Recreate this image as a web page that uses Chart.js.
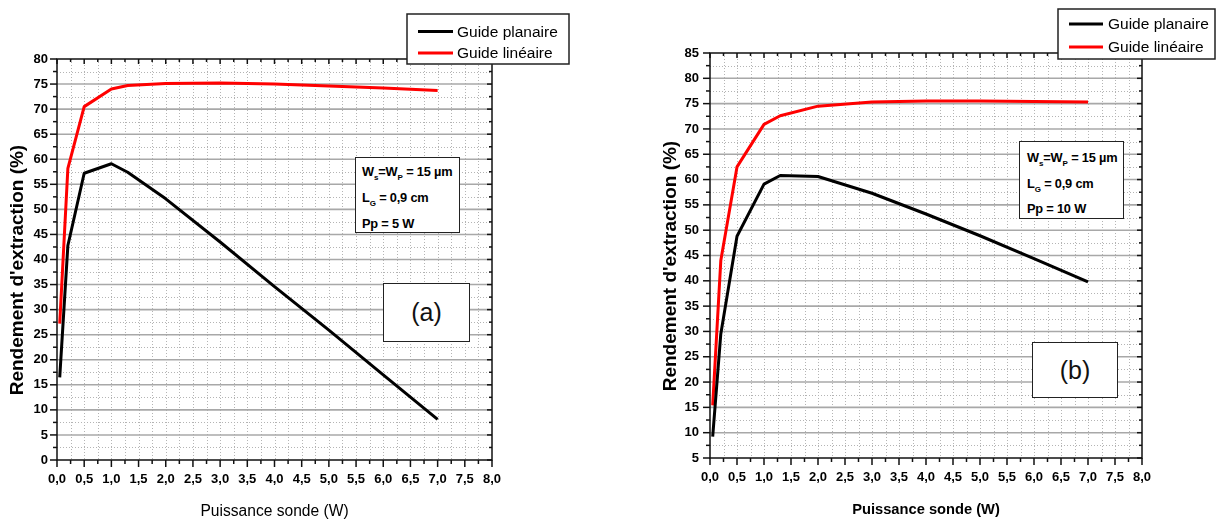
<!DOCTYPE html>
<html>
<head>
<meta charset="utf-8">
<script src="https://cdn.jsdelivr.net/npm/chart.js@4.4.0/dist/chart.umd.min.js"></script>
<style>
  body { margin: 0; background: #fff; width: 1222px; height: 521px; overflow: hidden; position: relative;
         font-family: "Liberation Sans", Arial, sans-serif; }
  .graph { position: absolute; top: 0; width: 611px; height: 521px; }
  .note { position: absolute; box-sizing: border-box; background: #fff; border: 1.5px solid #222;
          font-weight: bold; font-size: 12.8px; color: #000; white-space: nowrap; letter-spacing: -0.2px; }
  .note sub { font-size: 8px; line-height: 0; vertical-align: -4px; letter-spacing: 0; }
  .tag { position: absolute; box-sizing: border-box; background: #fff; border: 1.5px solid #222;
         font-size: 25px; display: flex; align-items: center; justify-content: center; color: #111; }
</style>
</head>
<body>
<div class="graph" style="left:0"><canvas id="chartA"></canvas></div>
<div class="graph" style="left:611px"><canvas id="chartB"></canvas></div>

<div class="note" style="left:355px; top:157px; width:105px; height:76px; padding:1px 0 0 6px; line-height:26px">
W<sub>s</sub>=W<sub>P</sub> = 15 µm<br>L<sub>G</sub> = 0,9 cm<br>Pp = 5 W</div>
<div class="tag" style="left:383px; top:283px; width:87px; height:59px">(a)</div>

<div class="note" style="left:1019px; top:141px; width:105px; height:78px; padding:3px 0 0 7px; line-height:25.5px">
W<sub>s</sub>=W<sub>P</sub> = 15 µm<br>L<sub>G</sub> = 0,9 cm<br>Pp = 10 W</div>
<div class="tag" style="left:1032px; top:342px; width:86px; height:56px">(b)</div>

<script>
// Puissance sonde (W)
const puissanceA = [0.05, 0.2, 0.5, 1.0, 1.3, 2.0, 3.0, 4.0, 5.0, 6.0, 7.0];
const planaireA  = [16.5, 42.8, 57.2, 59.1, 57.4, 52.1, 43.5, 34.6, 25.9, 17.0, 8.1];
const lineaireA  = [27.2, 58.2, 70.5, 74.0, 74.7, 75.1, 75.2, 75.0, 74.6, 74.2, 73.7];

const puissanceB = [0.05, 0.2, 0.5, 1.0, 1.3, 2.0, 3.0, 4.0, 5.0, 6.0, 7.0];
const planaireB  = [9.2, 29.5, 48.8, 59.1, 60.8, 60.6, 57.3, 53.2, 48.9, 44.4, 39.8];
const lineaireB  = [15.4, 44.0, 62.5, 70.9, 72.6, 74.5, 75.3, 75.5, 75.5, 75.4, 75.3];

const seriesLabels = ["Guide planaire", "Guide linéaire"];
const seriesColors = ["#000000", "#ff0000"];

const xTitle = "Puissance sonde (W)";
const yTitle = "Rendement d'extraction (%)";

const FONT = '"Liberation Sans", Arial, sans-serif';
Chart.defaults.font.family = FONT;
Chart.defaults.color = "#000";

function line(ctx, x1, y1, x2, y2) {
  ctx.beginPath();
  ctx.moveTo(x1, y1);
  ctx.lineTo(x2, y2);
  ctx.stroke();
}

// grille pointillée + cadre et graduations façon Origin
const cadre = {
  id: "cadre",
  beforeDatasetsDraw(chart) {
    const { ctx, chartArea: a, scales: { x, y } } = chart;
    ctx.save();
    ctx.lineWidth = 1;
    ctx.strokeStyle = "#b4b4b4";
    ctx.setLineDash([1, 2]);
    for (let v = x.min + 0.25; v < x.max - 0.01; v += 0.25) {
      const px = Math.round(x.getPixelForValue(v)) + 0.5;
      line(ctx, px, a.top, px, a.bottom);
    }
    for (let v = y.min + 2.5; v < y.max - 0.01; v += 5) {
      const py = Math.round(y.getPixelForValue(v)) + 0.5;
      line(ctx, a.left, py, a.right, py);
    }
    ctx.setLineDash([]);
    ctx.strokeStyle = "#a8a8a8";
    ctx.lineWidth = 1.6;
    for (let v = y.min + 5; v < y.max - 0.01; v += 5) {
      const py = y.getPixelForValue(v);
      line(ctx, a.left, py, a.right, py);
    }
    ctx.restore();
  },
  afterDatasetsDraw(chart, args, opts) {
    const { ctx, chartArea: a, scales: { x, y } } = chart;
    ctx.save();
    ctx.strokeStyle = "#111";
    ctx.lineWidth = 1.5;
    ctx.strokeRect(a.left, a.top, a.right - a.left, a.bottom - a.top);

    for (let v = x.min; v <= x.max + 0.01; v += 0.25) {
      const px = x.getPixelForValue(v);
      const major = Math.abs(v * 2 - Math.round(v * 2)) < 0.01;
      line(ctx, px, a.bottom, px, a.bottom + (major ? 7 : 4));
      line(ctx, px, a.top, px, a.top + (major ? 5 : 3));
    }
    for (let v = y.min; v <= y.max + 0.01; v += 2.5) {
      const py = y.getPixelForValue(v);
      const major = Math.abs(v / 5 - Math.round(v / 5)) < 0.01;
      line(ctx, a.left, py, a.left - (major ? 7 : 4), py);
      line(ctx, a.right, py, a.right - (major ? 5 : 3), py);
    }

    // légende
    const L = opts.legend;
    ctx.fillStyle = "#fff";
    ctx.fillRect(L.x, L.y, L.w, L.h);
    ctx.strokeStyle = "#222";
    ctx.lineWidth = 1.5;
    ctx.strokeRect(L.x, L.y, L.w, L.h);
    ctx.font = "15.5px " + FONT;
    ctx.textBaseline = "middle";
    ctx.textAlign = "left";
    chart.data.datasets.forEach((ds, i) => {
      const ly = L.rows[i];
      ctx.strokeStyle = ds.borderColor;
      ctx.lineWidth = 3;
      line(ctx, L.x1, ly, L.x2, ly);
      ctx.fillStyle = "#000";
      ctx.fillText(ds.label, L.tx, ly + 1);
    });
    ctx.restore();
  }
};

function makeChart(id, xs, ysPlan, ysLin, cfg) {
  const ds = [ysPlan, ysLin].map((vals, i) => ({
    label: seriesLabels[i],
    data: xs.map((v, k) => ({ x: v, y: vals[k] })),
    borderColor: seriesColors[i],
    backgroundColor: seriesColors[i],
    borderWidth: 3,
    pointRadius: 0,
    tension: 0,
    borderJoinStyle: "round"
  }));
  return new Chart(document.getElementById(id), {
    type: "line",
    data: { datasets: ds },
    plugins: [cadre],
    options: {
      responsive: true,
      maintainAspectRatio: false,
      animation: false,
      events: [],
      layout: { padding: { top: cfg.top, right: cfg.right, left: 0, bottom: 0 } },
      plugins: {
        legend: { display: false },
        tooltip: { enabled: false },
        cadre: { legend: cfg.legend }
      },
      scales: {
        x: {
          type: "linear",
          min: 0,
          max: 8,
          grid: { display: false, drawTicks: false },
          border: { display: false },
          ticks: {
            stepSize: 0.5,
            padding: 12,
            autoSkip: false,
            maxRotation: 0,
            font: { size: 13, weight: "bold" },
            callback: v => v.toFixed(1).replace(".", ",")
          },
          title: {
            display: true,
            text: xTitle,
            font: cfg.xTitleFont,
            padding: { top: 0, bottom: cfg.xTitlePad }
          },
          afterFit: s => { s.height = cfg.xHeight; }
        },
        y: {
          min: cfg.yMin,
          max: cfg.yMax,
          grid: { display: false, drawTicks: false },
          border: { display: false },
          ticks: {
            stepSize: 5,
            padding: cfg.yTickPad,
            font: { size: 13, weight: "bold" }
          },
          title: {
            display: true,
            text: yTitle + "    ",
            font: { size: 19, weight: "bold" },
            padding: { top: cfg.yTitlePad, bottom: 0 }
          },
          afterFit: s => { s.width = cfg.yWidth; }
        }
      }
    }
  });
}

makeChart("chartA", puissanceA, planaireA, lineaireA, {
  top: 59, right: 119, xHeight: 61, yWidth: 57,
  yMin: 0, yMax: 80, yTickPad: 9, yTitlePad: 6.6,
  xTitleFont: { size: 15.6, weight: "normal" }, xTitlePad: 0,
  legend: { x: 407, y: 14, w: 162, h: 50, x1: 418, x2: 453, tx: 457, rows: [31.5, 53] }
});

makeChart("chartB", puissanceB, planaireB, lineaireB, {
  top: 53, right: 80, xHeight: 63, yWidth: 99,
  yMin: 5, yMax: 85, yTickPad: 11, yTitlePad: 48.3,
  xTitleFont: { size: 14.7, weight: "bold" }, xTitlePad: 2,
  legend: { x: 447, y: 9, w: 157, h: 50, x1: 458, x2: 492, tx: 497, rows: [24, 47] }
});
</script>
</body>
</html>
